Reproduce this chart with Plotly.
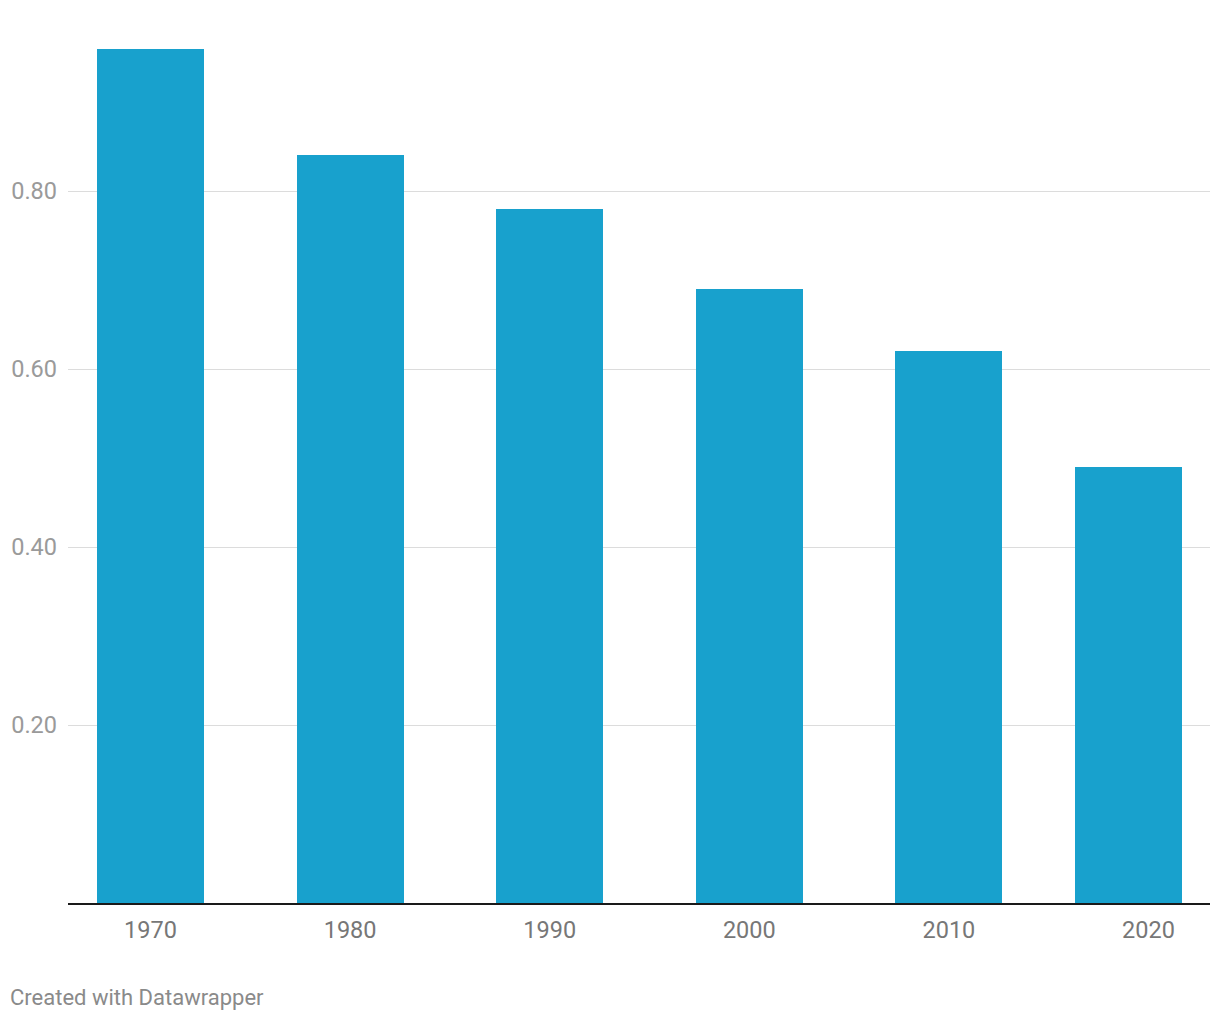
import plotly.graph_objects as go

years = [1970, 1980, 1990, 2000, 2010, 2019]
values = [0.96, 0.84, 0.78, 0.69, 0.62, 0.49]
x_tick_vals = [1970, 1980, 1990, 2000, 2010, 2020]
x_tick_text = ["1970", "1980", "1990", "2000", "2010", "2020"]
y_tick_vals = [0.2, 0.4, 0.6, 0.8]
y_tick_text = ["0.20", "0.40", "0.60", "0.80"]

fig = go.Figure()
fig.add_trace(go.Bar(
    x=years, y=values, width=5.36,
    marker=dict(color="#18a1cd", line=dict(width=0)),
    hoverinfo="x+y",
))

fig.update_layout(
    width=1220, height=1020,
    margin=dict(l=68, r=10, t=13, b=117),
    paper_bgcolor="white", plot_bgcolor="white",
    font=dict(family="Roboto", size=23),
    showlegend=False,
    bargap=0,
    xaxis=dict(
        range=[1965.867, 2023.08],
        tickvals=x_tick_vals, ticktext=x_tick_text,
        tickfont=dict(color="#777777", size=23.5),
        showgrid=False, zeroline=False,
        showline=True, linecolor="#1a1a1a", linewidth=2,
        ticks="", ticklabelstandoff=5,
        fixedrange=True,
    ),
    yaxis=dict(
        range=[0, 1.0],
        tickvals=y_tick_vals, ticktext=y_tick_text,
        tickfont=dict(color="#9a9a9a", size=23.5),
        showgrid=True, gridcolor="#dcdcdc", gridwidth=1,
        zeroline=False, showline=False, ticks="",
        ticklabelstandoff=10,
        fixedrange=True,
    ),
    annotations=[dict(
        text="Created with Datawrapper",
        xref="paper", yref="paper", x=0, y=0,
        xanchor="left", yanchor="middle",
        xshift=-60, yshift=-94, showarrow=False,
        font=dict(family="Roboto", size=22, color="#8a8a8a"),
    )],
)

fig.write_html("out.html")
